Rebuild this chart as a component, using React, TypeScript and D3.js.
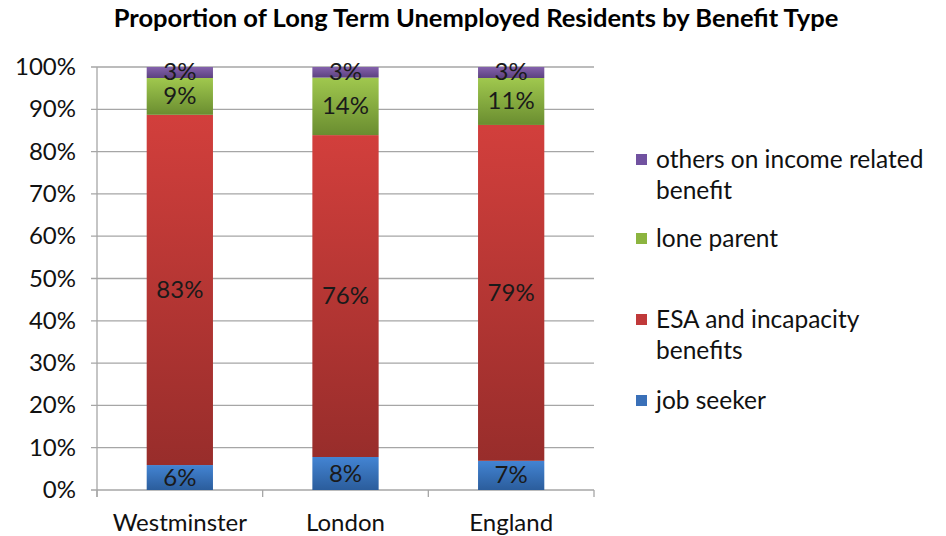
import React from "react";
import * as d3 from "d3";

const categories = ["Westminster", "London", "England"];
const seriesNames = ["job seeker", "ESA and incapacity benefits", "lone parent", "others on income related benefit"];
const jobSeeker = [5.9, 7.8, 6.9];
const esa = [82.8, 76.1, 79.4];
const loneParent = [8.7, 13.6, 11.1];
const others = [2.6, 2.5, 2.6];
const yTicks = [0, 10, 20, 30, 40, 50, 60, 70, 80, 90, 100];
const legendLines = [["others on income related", "benefit"], ["lone parent"], ["ESA and incapacity", "benefits"], ["job seeker"]];

const W = 946, H = 536;
const left = 97, right = 594, top = 67, bottom = 490;
const font = "Lato, 'Open Sans', sans-serif";
const colors = [
  { a: "#4384d3", b: "#2b5d9c" },
  { a: "#d23f3c", b: "#982d2b" },
  { a: "#a0c84e", b: "#6a8d30" },
  { a: "#8462ac", b: "#5c4180" },
];
const legendColors = ["#7152a0", "#8cb43f", "#c0393a", "#3a70b8"];

export default function App() {
  const x = d3.scaleBand().domain(categories).range([left, right]).paddingInner(0.6).paddingOuter(0.3);
  const y = d3.scaleLinear().domain([0, 100]).range([bottom, top]);
  const data = categories.map((c, i) => {
    const vals = [jobSeeker[i], esa[i], loneParent[i], others[i]];
    const total = d3.sum(vals);
    let acc = 0;
    return vals.map((v, k) => {
      const p = (v / total) * 100;
      const seg = { cat: c, k, y0: acc, y1: acc + p, v };
      acc += p;
      return seg;
    });
  });
  const band = (right - left) / 3;
  const legendY = [160, 239, 320, 401];
  const fs = 24;
  return (
    <svg width={W} height={H} style={{ position: "absolute", left: 0, top: 0, background: "#fff" }}>
      <defs>
        {colors.map((c, i) => (
          <linearGradient key={i} id={`g${i}`} x1="0" y1="0" x2="0" y2="1">
            <stop offset="0" stopColor={c.a} />
            <stop offset="1" stopColor={c.b} />
          </linearGradient>
        ))}
      </defs>
      <text x={476} y={27} textAnchor="middle" fontFamily={font} fontWeight="bold" fontSize={25.5} fill="#000">
        Proportion  of Long Term Unemployed Residents by Benefit Type
      </text>
      {yTicks.map((t) => (
        <g key={t}>
          <line x1={left - 6} x2={right} y1={y(t)} y2={y(t)} stroke="#a6a6a6" strokeWidth={1.3} />
          <text x={76} y={y(t) + 8} textAnchor="end" fontFamily={font} fontSize={fs} fill="#111">{t}%</text>
        </g>
      ))}
      <line x1={left} x2={left} y1={top} y2={bottom + 7} stroke="#a6a6a6" strokeWidth={1.3} />
      {[0, 1, 2, 3].map((i) => (
        <line key={i} x1={left + band * i} x2={left + band * i} y1={bottom} y2={bottom + 7} stroke="#a6a6a6" strokeWidth={1.3} />
      ))}
      {data.map((segs, ci) => (
        <g key={ci}>
          {segs.map((s) => (
            <rect key={s.k} x={x(s.cat)!} width={x.bandwidth()} y={y(s.y1)} height={y(s.y0) - y(s.y1)} fill={`url(#g${s.k})`} />
          ))}
          {segs.map((s) => (
            <text key={"t" + s.k} x={x(s.cat)! + x.bandwidth() / 2} y={(y(s.y0) + y(s.y1)) / 2 + 8} textAnchor="middle" fontFamily={font} fontSize={fs} fill="#1a1a1a">
              {Math.round(s.v)}%
            </text>
          ))}
        </g>
      ))}
      {categories.map((c) => (
        <text key={c} x={x(c)! + x.bandwidth() / 2} y={531} textAnchor="middle" fontFamily={font} fontSize={fs} fill="#111">{c}</text>
      ))}
      {legendLines.map((lines, i) => (
        <g key={i}>
          <rect x={636} y={legendY[i] - 6} width={11} height={11} fill={legendColors[i]} />
          {lines.map((l, j) => (
            <text key={j} x={656} y={legendY[i] + 8 + j * 31} fontFamily={font} fontSize={24.5} fill="#111">{l}</text>
          ))}
        </g>
      ))}
    </svg>
  );
}
